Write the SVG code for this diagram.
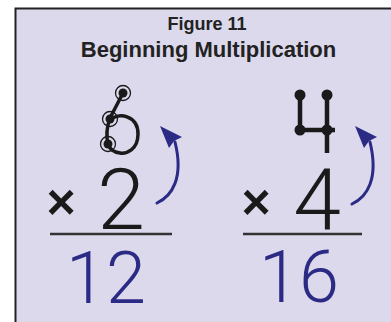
<svg xmlns="http://www.w3.org/2000/svg" width="391" height="322" viewBox="0 0 391 322">
  <style>
    .title { font-family: "Liberation Sans", Arial, sans-serif; font-weight: bold; fill: #222; text-anchor: middle; }
    .ink { fill: none; stroke: #1a1a1a; stroke-width: 3.5; stroke-linecap: round; stroke-linejoin: round; }
    .dot { fill: #1a1a1a; }
    .ring { fill: none; stroke: #1a1a1a; stroke-width: 1.3; }
    .rule { stroke: #333; stroke-width: 2.5; }
    .times { font-family: "Liberation Sans", Arial, sans-serif; font-weight: bold; font-size: 50px; fill: #1a1a1a; text-anchor: middle; }
    .digit { font-family: "Roboto", "Inter", "Liberation Sans", sans-serif; font-weight: 300; font-size: 86px; fill: #1a1a1a; text-anchor: middle; }
    .ans { font-family: "Roboto", "Inter", "Liberation Sans", sans-serif; font-weight: 300; font-size: 72px; fill: #2b2a85; }
    .arrow { fill: none; stroke: #2b2a85; stroke-width: 3; stroke-linecap: round; }
    .head { fill: #2b2a85; }
  </style>
  <rect x="15.5" y="8.5" width="390" height="330" fill="#dcd9ec" stroke="#222" stroke-width="2"/>
  <g id="title">
    <text class="title" x="207" y="30" font-size="18">Figure 11</text>
    <text class="title" x="208.5" y="57" font-size="22">Beginning Multiplication</text>
  </g>
  <g id="problem-left">
    <path class="ink" d="M123,93 L110,118 Q105,132 108,144"/>
    <path class="ink" d="M110,120 C118,112 138,115 138,134 C138,150 126,154 120,153 C113,152 109,148 108,144"/>
    <circle class="dot" cx="123" cy="93" r="4.5"/>
    <circle class="dot" cx="110" cy="119" r="4.5"/>
    <circle class="dot" cx="108" cy="144" r="4.5"/>
    <circle class="ring" cx="123" cy="93" r="7.5"/>
    <circle class="ring" cx="110" cy="119" r="7.5"/>
    <circle class="ring" cx="108" cy="144" r="7.5"/>
    <text class="times" x="61" y="219">×</text>
    <text class="digit" x="121" y="229">2</text>
    <line class="rule" x1="50" y1="234" x2="172" y2="234"/>
    <text class="ans" x="66" y="303">12</text>
  </g>
  <g id="problem-right">
    <path d="M300,95 V130 H335 M327,95 V153" fill="none" stroke="#1a1a1a" stroke-width="4.5"/>
    <circle class="dot" cx="300" cy="95" r="5.5"/>
    <circle class="dot" cx="327" cy="95" r="5.5"/>
    <circle class="dot" cx="300" cy="130" r="5.5"/>
    <circle class="dot" cx="327" cy="130" r="5.5"/>
    <text class="times" x="256" y="219">×</text>
    <text class="digit" x="317" y="229">4</text>
    <line class="rule" x1="243" y1="234" x2="362" y2="234"/>
    <text class="ans" x="259" y="302">16</text>
  </g>
  <g id="connectors">
    <path class="arrow" d="M157,203 C172,196 184,178 175,142"/>
    <polygon class="head" points="160,126 182,137 174,141 169,148"/>
    <path class="arrow" d="M352,204 C367,197 379,179 370,142"/>
    <polygon class="head" points="355,126 377,137 369,141 364,148"/>
  </g>
</svg>
